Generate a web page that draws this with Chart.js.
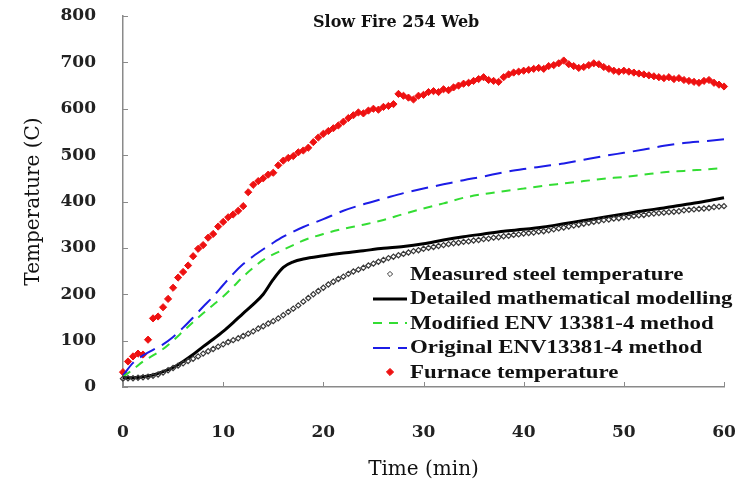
<!DOCTYPE html>
<html>
<head>
<meta charset="utf-8">
<title>Slow Fire 254 Web</title>
<script src="https://cdn.jsdelivr.net/npm/chart.js@4.4.1/dist/chart.umd.min.js"></script>
<style>
    html, body { margin: 0; padding: 0; background: #fff; }
    #wrap { position: relative; width: 738px; height: 485px; overflow: hidden; }
    #chart { position: absolute; left: 0; top: 0; }
    #title {
        position: absolute; left: 313px; top: 12px;
        font: bold 16px "DejaVu Serif", serif; color: #111; white-space: nowrap;
    }
    #legend {
        position: absolute; left: 370px; top: 262px;
        font: bold 18px "Liberation Serif", serif; color: #111;
    }
    .row { display: flex; align-items: center; height: 24.5px; white-space: nowrap; }
    .row svg { width: 40px; height: 14px; flex: none; }
    /* растянутый по горизонтали Times, как в исходнике */
    .row span { display: inline-block; transform: scaleX(1.27); transform-origin: left center; }
</style>
</head>
<body>
<div id="wrap">
    <canvas id="chart" width="738" height="485"></canvas>
    <div id="title">Slow Fire 254 Web</div>
    <div id="legend"></div>
</div>
<script>
// Время (мин) с шагом 0.5 - для замеров
const timeHalfMin = [
    0, 0.5, 1, 1.5, 2, 2.5, 3, 3.5, 4, 4.5, 5, 5.5, 6, 6.5, 7, 7.5, 8, 8.5, 9, 9.5,
    10, 10.5, 11, 11.5, 12, 12.5, 13, 13.5, 14, 14.5, 15, 15.5, 16, 16.5, 17, 17.5, 18, 18.5, 19, 19.5,
    20, 20.5, 21, 21.5, 22, 22.5, 23, 23.5, 24, 24.5, 25, 25.5, 26, 26.5, 27, 27.5, 28, 28.5, 29, 29.5,
    30, 30.5, 31, 31.5, 32, 32.5, 33, 33.5, 34, 34.5, 35, 35.5, 36, 36.5, 37, 37.5, 38, 38.5, 39, 39.5,
    40, 40.5, 41, 41.5, 42, 42.5, 43, 43.5, 44, 44.5, 45, 45.5, 46, 46.5, 47, 47.5, 48, 48.5, 49, 49.5,
    50, 50.5, 51, 51.5, 52, 52.5, 53, 53.5, 54, 54.5, 55, 55.5, 56, 56.5, 57, 57.5, 58, 58.5, 59, 59.5,
    60
];

// Измеренная температура стали
const measuredSteel = [
    18, 19, 19, 20, 21, 22, 24, 27, 31, 36,
    41, 46, 51, 56, 61, 66, 72, 77, 82, 87,
    92, 97, 101, 105, 110, 115, 120, 126, 131, 137,
    142, 148, 155, 162, 169, 176, 184, 192, 200, 207,
    214, 221, 227, 233, 238, 244, 249, 253, 257, 262,
    266, 270, 274, 278, 281, 284, 287, 290, 293, 295,
    298, 300, 302, 304, 306, 308, 310, 311, 313, 314,
    316, 317, 319, 320, 322, 323, 325, 326, 328, 329,
    331, 332, 333, 335, 336, 338, 340, 342, 344, 346,
    348, 350, 352, 354, 356, 358, 360, 361, 363, 364,
    366, 367, 369, 370, 371, 373, 374, 375, 376, 377,
    378, 379, 381, 382, 383, 384, 385, 386, 388, 389,
    390
];

// Температура печи
const furnaceTemp = [
    32, 55, 66, 72, 70, 102, 148, 152, 172, 190,
    214, 236, 248, 262, 282, 298, 306, 322, 330, 346,
    356, 366, 372, 380, 390, 420, 436, 444, 450, 458,
    462, 478, 488, 494, 498, 506, 510, 516, 528, 538,
    546, 552, 558, 564, 572, 580, 586, 592, 590, 596,
    600, 598, 604, 606, 610, 632, 628, 624, 620, 628,
    630, 636, 638, 636, 642, 640, 646, 650, 654, 656,
    660, 664, 668, 662, 660, 658, 668, 674, 678, 680,
    682, 684, 686, 688, 686, 692, 694, 698, 704, 696,
    692, 688, 690, 694, 698, 696, 690, 686, 682, 680,
    682, 680, 678, 676, 674, 672, 670, 668, 666, 668,
    664, 666, 662, 660, 658, 656, 660, 662, 656, 652,
    648
];

// Время для расчётных кривых
const modelTime = [
    0, 1, 2, 3, 4, 5, 6, 7, 8, 9, 10, 11, 12, 13, 14, 15, 16, 17, 18,
    20, 22, 24, 26, 28, 30, 32, 34, 36, 38, 40, 42, 44, 46, 48, 50, 52, 54, 56, 58, 60
];

// Детальное математическое моделирование
const detailedModel = [
    20, 20, 22, 26, 33, 42, 55, 70, 87, 103, 120, 139, 159, 178, 200, 232, 258, 270, 276,
    283, 289, 294, 299, 303, 309, 317, 324, 330, 336, 340, 345, 352, 359, 366, 373, 380, 386, 393, 400, 408
];

// Модифицированный метод ENV 13381-4
const modifiedEnv = [
    22, 38, 55, 68, 82, 100, 120, 140, 159, 177, 195, 216, 238, 257, 274, 286, 296, 306, 316,
    330, 341, 350, 360, 373, 385, 396, 408, 416, 422, 428, 434, 439, 444, 449, 453, 458, 463, 466, 469, 472
];

// Исходный метод ENV13381-4
const originalEnv = [
    25, 52, 68, 80, 92, 108, 128, 150, 173, 195, 220, 244, 265, 282, 297, 311, 324, 335, 345,
    362, 380, 394, 406, 418, 428, 437, 446, 454, 463, 470, 476, 482, 490, 498, 505, 512, 520, 526, 530, 534
];

// Подписи
const seriesLabels = [
    'Measured steel temperature',
    'Detailed mathematical modelling',
    'Modified ENV 13381-4 method',
    'Original ENV13381-4 method',
    'Furnace temperature'
];

// Пары {x, y} для scatter
function toPoints(xs, ys) {
    return xs.map((x, i) => ({ x: x, y: ys[i] }));
}

const datasets = [
    {
        label: seriesLabels[0],
        data: toPoints(timeHalfMin, measuredSteel),
        showLine: false,
        pointStyle: 'rectRot',
        pointRadius: 2.6,
        borderWidth: 1.2,
        borderColor: '#383838',
        backgroundColor: 'rgba(255,255,255,0)'
    },
    {
        label: seriesLabels[1],
        data: toPoints(modelTime, detailedModel),
        showLine: true,
        pointRadius: 0,
        borderWidth: 3,
        borderColor: '#000',
        cubicInterpolationMode: 'monotone'
    },
    {
        label: seriesLabels[2],
        data: toPoints(modelTime, modifiedEnv),
        showLine: true,
        pointRadius: 0,
        borderWidth: 2,
        borderColor: '#33dd33',
        borderDash: [9, 7],
        cubicInterpolationMode: 'monotone'
    },
    {
        label: seriesLabels[3],
        data: toPoints(modelTime, originalEnv),
        showLine: true,
        pointRadius: 0,
        borderWidth: 2,
        borderColor: '#1c1ce6',
        borderDash: [17, 8],
        cubicInterpolationMode: 'monotone'
    },
    {
        label: seriesLabels[4],
        data: toPoints(timeHalfMin, furnaceTemp),
        showLine: false,
        pointStyle: 'rectRot',
        pointRadius: 3.6,
        borderWidth: 1,
        borderColor: '#ee1111',
        backgroundColor: '#ee1111'
    }
];

// Засечки внутрь области графика
const inwardTicks = {
    id: 'inwardTicks',
    afterDatasetsDraw(chart) {
        const { ctx, chartArea, scales } = chart;
        ctx.save();
        ctx.strokeStyle = '#8a8a8a';
        ctx.lineWidth = 1;
        ctx.beginPath();
        scales.y.ticks.forEach(t => {
            const py = Math.round(scales.y.getPixelForValue(t.value)) + 0.5;
            ctx.moveTo(chartArea.left, py);
            ctx.lineTo(chartArea.left + 5, py);
        });
        scales.x.ticks.forEach(t => {
            const px = Math.round(scales.x.getPixelForValue(t.value)) + 0.5;
            ctx.moveTo(px, chartArea.bottom);
            ctx.lineTo(px, chartArea.bottom - 5);
        });
        ctx.stroke();
        ctx.restore();
    }
};

const tickFont = { family: '"DejaVu Serif", serif', size: 17, weight: 'bold' };
const titleFont = { family: '"DejaVu Serif", serif', size: 20, weight: 'normal' };

new Chart(document.getElementById('chart').getContext('2d'), {
    type: 'scatter',
    data: { datasets: datasets },
    options: {
        responsive: false,
        animation: false,
        devicePixelRatio: 1,
        clip: 6,
        layout: { padding: { top: 16, right: 14, left: 0, bottom: 0 } },
        plugins: {
            legend: { display: false },
            tooltip: { enabled: false }
        },
        scales: {
            x: {
                type: 'linear',
                min: 0,
                max: 60,
                ticks: { stepSize: 10, padding: 35, color: '#222', font: tickFont },
                grid: { display: false, drawTicks: false },
                border: { display: true, color: '#8a8a8a', width: 1.5 },
                title: { display: true, text: 'Time (min)', color: '#111', font: titleFont, padding: { top: 0, bottom: 3 } },
                afterFit: s => {
                    s.height = 98;
                    // отступ подписи не должен сужать область графика
                    s.paddingLeft = 0;
                    s.paddingRight = 10;
                }
            },
            y: {
                min: 0,
                max: 800,
                ticks: { stepSize: 100, padding: 27, color: '#222', font: tickFont },
                grid: { display: false, drawTicks: false },
                border: { display: true, color: '#8a8a8a', width: 1.5 },
                title: { display: true, text: 'Temperature (C)', color: '#111', font: titleFont, padding: { top: 22, bottom: 0 } },
                afterFit: s => {
                    s.width = 123;
                    s.paddingTop = 10;
                    s.paddingBottom = 10;
                }
            }
        }
    },
    plugins: [inwardTicks]
});

// Легенда внутри графика
function legendIcon(ds) {
    let shape;
    if (ds.showLine) {
        const dash = ds.borderDash ? ` stroke-dasharray="${ds.borderDash.join(' ')}"` : '';
        shape = `<line x1="3" y1="7" x2="37" y2="7" stroke="${ds.borderColor}" stroke-width="${ds.borderWidth}"${dash}/>`;
    } else {
        const r = ds.pointRadius;
        shape = `<path d="M20 ${7 - r} L${20 + r} 7 L20 ${7 + r} L${20 - r} 7 Z" fill="${ds.backgroundColor}" stroke="${ds.borderColor}" stroke-width="1"/>`;
    }
    return `<svg viewBox="0 0 40 14">${shape}</svg>`;
}

document.getElementById('legend').innerHTML = datasets
    .map(ds => `<div class="row">${legendIcon(ds)}<span>${ds.label}</span></div>`)
    .join('');
</script>
</body>
</html>
